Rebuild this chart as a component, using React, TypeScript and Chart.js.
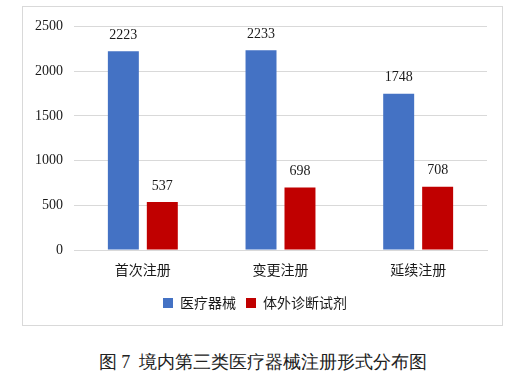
import React, { useEffect, useRef } from "react";
import { Chart, registerables } from "chart.js";

Chart.register(...registerables);

const categories = ["首次注册", "变更注册", "延续注册"];
const seriesNames = ["医疗器械", "体外诊断试剂"];
const deviceValues = [2223, 2233, 1748];
const ivdValues = [537, 698, 708];
const yTicks = [0, 500, 1000, 1500, 2000, 2500];
const caption = "图 7  境内第三类医疗器械注册形式分布图";

const SERIF = '"Liberation Serif", "Times New Roman", serif';
const CJK = '"Noto Sans CJK SC", "Noto Sans", sans-serif';

const dataLabelPlugin = {
  id: "dataLabels",
  afterDatasetsDraw(chart: any) {
    const ctx = chart.ctx;
    ctx.save();
    ctx.font = `14px ${SERIF}`;
    ctx.fillStyle = "#1a1a1a";
    ctx.textAlign = "center";
    ctx.textBaseline = "middle";
    chart.data.datasets.forEach((ds: any, i: number) => {
      const meta = chart.getDatasetMeta(i);
      meta.data.forEach((bar: any, j: number) => {
        ctx.fillText(String(ds.data[j]), bar.x, bar.y - 16);
      });
    });
    ctx.restore();
  },
};

export default function App() {
  const ref = useRef<HTMLCanvasElement>(null);
  useEffect(() => {
    if (!ref.current) return;
    const chart = new Chart(ref.current, {
      type: "bar",
      data: {
        labels: categories,
        datasets: [
          { label: seriesNames[0], data: deviceValues, backgroundColor: "#4472C4", categoryPercentage: 0.566, barPercentage: 0.795 },
          { label: seriesNames[1], data: ivdValues, backgroundColor: "#C00000", categoryPercentage: 0.566, barPercentage: 0.795 },
        ],
      },
      options: {
        responsive: false,
        animation: false,
        layout: { padding: { top: 14, right: 15, bottom: 5, left: 0 } },
        scales: {
          x: {
            grid: { display: false, drawTicks: false },
            border: { display: true, color: "#d9d9d9" },
            ticks: { color: "#1a1a1a", font: { family: CJK, size: 14 }, padding: 11 },
            afterFit: (s: any) => { s.height = 36; },
          },
          y: {
            min: 0,
            max: 2500,
            afterBuildTicks: (s: any) => { s.ticks = yTicks.map((v) => ({ value: v })); },
            grid: { color: "#d9d9d9", drawTicks: false },
            border: { display: false },
            ticks: {
              color: "#1a1a1a",
              font: { family: SERIF, size: 14 },
              padding: 11,
              callback: (v: any) => String(v),
            },
            afterFit: (s: any) => { s.width = 51; },
          },
        },
        plugins: {
          legend: {
            position: "bottom",
            labels: {
              boxWidth: 10,
              boxHeight: 10,
              padding: 10,
              color: "#1a1a1a",
              font: { family: CJK, size: 14 },
            },
          },
          tooltip: { enabled: false },
        },
      },
      plugins: [dataLabelPlugin],
    } as any);
    return () => chart.destroy();
  }, []);

  return (
    <div style={{ position: "absolute", left: 0, top: 0, width: 526, height: 376, background: "#fff" }}>
      <div
        style={{
          position: "absolute",
          left: 22,
          top: 6,
          width: 481,
          height: 320,
          border: "1px solid #d9d9d9",
          boxSizing: "border-box",
        }}
      >
        <canvas ref={ref} width={479} height={318} style={{ display: "block", width: 479, height: 318 }} />
      </div>
      <div
        style={{
          position: "absolute",
          left: 0,
          width: 526,
          top: 351,
          textAlign: "center",
          fontFamily: SERIF,
          fontSize: 18,
          lineHeight: "22px",
          color: "#222",
          whiteSpace: "pre",
        }}
      >
        {caption}
      </div>
    </div>
  );
}
